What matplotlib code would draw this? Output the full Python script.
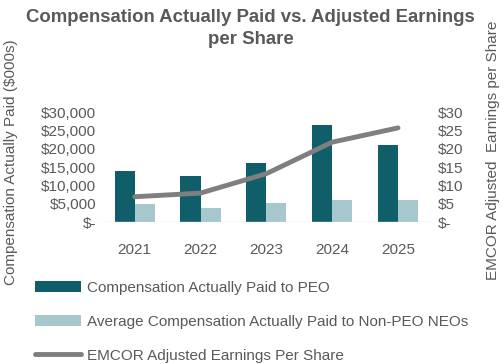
import matplotlib.pyplot as plt
import numpy as np

years = ["2021", "2022", "2023", "2024", "2025"]
peo_cap = [14000, 12700, 16000, 26600, 20900]
non_peo_cap = [5000, 3950, 5300, 5950, 6050]
adj_eps = [6.9, 7.9, 13.2, 21.8, 25.7]

dark = "#0f5e69"
light = "#a6c8cd"
grey_line = "#7f7f7f"
txt = "#595959"

plt.rcParams["font.family"] = ["Liberation Sans", "DejaVu Sans"]

fig = plt.figure(figsize=(5.04, 3.64), dpi=100)
ax = fig.add_axes([0.202, 0.39, 0.653, 0.302])

x = np.arange(len(years))
w = 0.305
b1 = ax.bar(x - w / 2, peo_cap, w, color=dark, label="Compensation Actually Paid to PEO")
b2 = ax.bar(x + w / 2, non_peo_cap, w, color=light,
            label="Average Compensation Actually Paid to Non-PEO NEOs")
ax.set_xlim(-0.5, 4.5)
ax.set_ylim(0, 30000)
ax.set_yticks(range(0, 30001, 5000))
ax.set_yticklabels(["$-"] + [f"${v:,}" for v in range(5000, 30001, 5000)])
ax.set_xticks(x)
ax.set_xticklabels(years)
ax.tick_params(length=0, labelsize=11, colors=txt, pad=4)
ax.tick_params(axis="x", pad=15)
for s in ax.spines.values():
    s.set_visible(False)
ax.axhline(0, color="#d9d9d9", lw=1)

ax2 = ax.twinx()
ln, = ax2.plot(x, adj_eps, color=grey_line, lw=3.5, solid_capstyle="round",
               label="EMCOR Adjusted Earnings Per Share")
ax2.set_ylim(0, 30)
ax2.set_yticks(range(0, 31, 5))
ax2.set_yticklabels(["$-"] + [f"${v}" for v in range(5, 31, 5)])
ax2.tick_params(length=0, labelsize=11, colors=txt, pad=5)
for s in ax2.spines.values():
    s.set_visible(False)

fig.text(0.022, 0.555, "Compensation Actually Paid ($000s)", rotation=90,
         ha="center", va="center", fontsize=11, color=txt)
fig.text(0.978, 0.588, "EMCOR Adjusted  Earnings per Share", rotation=90,
         ha="center", va="center", fontsize=11, color=txt)

fig.text(0.497, 0.975, "Compensation Actually Paid vs. Adjusted Earnings\nper Share",
         ha="center", va="top", fontsize=13.4, fontweight="bold", color=txt,
         linespacing=1.4)

fig.legend(handles=[b1, b2, ln], loc="upper left", bbox_to_anchor=(0.07, 0.229),
           frameon=False, fontsize=11, handlelength=3.0, handleheight=0.8,
           handletextpad=0.4, labelspacing=1.3, borderpad=0, borderaxespad=0,
           labelcolor=txt)

fig.savefig("out.png", dpi=100)
